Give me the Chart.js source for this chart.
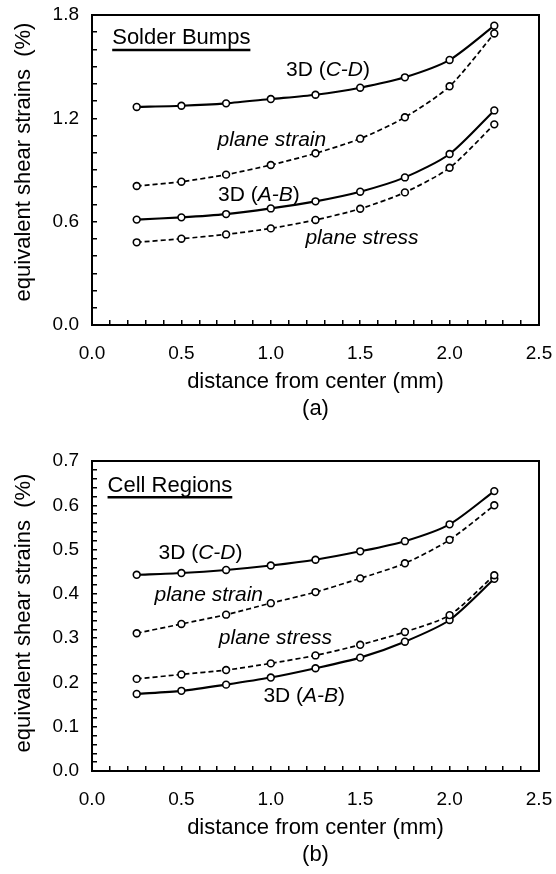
<!DOCTYPE html>
<html>
<head>
<meta charset="utf-8">
<script src="https://cdn.jsdelivr.net/npm/chart.js@4.4.1/dist/chart.umd.min.js"></script>
<style>
  html, body { margin: 0; padding: 0; background: #fff; overflow: hidden; }
  .panel { position: absolute; left: 0; width: 556px; height: 428px; }
</style>
</head>
<body>
<div class="panel" style="top:0"><canvas id="chart-a"></canvas></div>
<div class="panel" style="top:446px"><canvas id="chart-b"></canvas></div>
<script>
const distances = [0.25, 0.5, 0.75, 1.0, 1.25, 1.5, 1.75, 2.0, 2.25];

// (a) solder bumps
const bumpsCD = [1.266, 1.273, 1.287, 1.312, 1.337, 1.378, 1.438, 1.539, 1.738];
const bumpsPlaneStrain = [0.807, 0.832, 0.873, 0.929, 0.997, 1.082, 1.206, 1.386, 1.693];
const bumpsAB = [0.612, 0.625, 0.644, 0.677, 0.718, 0.774, 0.857, 0.993, 1.246];
const bumpsPlaneStress = [0.480, 0.501, 0.526, 0.561, 0.610, 0.675, 0.770, 0.913, 1.165];

// (b) cell regions
const cellCD = [0.443, 0.447, 0.454, 0.464, 0.477, 0.496, 0.519, 0.557, 0.632];
const cellPlaneStrain = [0.311, 0.332, 0.353, 0.379, 0.404, 0.435, 0.469, 0.522, 0.600];
const cellPlaneStress = [0.208, 0.218, 0.228, 0.243, 0.261, 0.285, 0.314, 0.352, 0.442];
const cellAB = [0.174, 0.181, 0.195, 0.211, 0.232, 0.256, 0.292, 0.341, 0.434];

// tick labels
const xTickLabels = ['0.0', '0.5', '1.0', '1.5', '2.0', '2.5'];
const bumpsYTickLabels = ['0.0', '0.6', '1.2', '1.8'];
const cellYTickLabels = ['0.0', '0.1', '0.2', '0.3', '0.4', '0.5', '0.6', '0.7'];

const FONT = '"Liberation Sans", Arial, sans-serif';

function toPoints(values) {
  return values.map((v, i) => ({ x: distances[i], y: v }));
}

function series(values, dashed) {
  return {
    data: toPoints(values),
    borderColor: '#000',
    borderWidth: dashed ? 1.7 : 2.1,
    borderDash: dashed ? [5, 3] : [],
    tension: 0.25,
    pointRadius: 3.4,
    pointBorderWidth: 1.6,
    pointBorderColor: '#000',
    pointBackgroundColor: '#fff',
    fill: false,
  };
}

function labelFor(labels) {
  return function (value) {
    const hit = labels.find(l => Math.abs(parseFloat(l) - value) < 1e-6);
    return hit === undefined ? '' : hit;
  };
}

// frame, y title and in-plot notes
const notesPlugin = {
  id: 'notes',
  afterDatasetsDraw(chart, args, opts) {
    const { ctx, chartArea: a, scales: { x, y } } = chart;
    ctx.save();
    ctx.strokeStyle = '#000';
    ctx.lineWidth = 2;
    ctx.strokeRect(a.left, a.top, a.right - a.left, a.bottom - a.top);

    ctx.fillStyle = '#000';
    ctx.textBaseline = 'middle';

    // y axis title
    ctx.save();
    ctx.translate(24, (a.top + a.bottom) / 2 + opts.yTitleShift);
    ctx.rotate(-Math.PI / 2);
    ctx.textAlign = 'center';
    ctx.font = '22px ' + FONT;
    ctx.fillText('equivalent shear strains  (%)', 0, 0);
    ctx.restore();

    ctx.textAlign = 'left';
    for (const note of opts.items) {
      const fonts = note.parts.map(p => (p[1] ? 'italic ' : '') + note.size + 'px ' + FONT);
      let width = 0;
      note.parts.forEach((p, i) => { ctx.font = fonts[i]; width += ctx.measureText(p[0]).width; });
      let px = x.getPixelForValue(note.x);
      const py = y.getPixelForValue(note.y);
      if (note.align === 'center') px -= width / 2;
      const start = px;
      note.parts.forEach((p, i) => {
        ctx.font = fonts[i];
        ctx.fillText(p[0], px, py);
        px += ctx.measureText(p[0]).width;
      });
      if (note.underline) {
        ctx.lineWidth = 2.5;
        ctx.beginPath();
        ctx.moveTo(start, py + 11.5);
        ctx.lineTo(start + width, py + 11.5);
        ctx.stroke();
      }
    }
    ctx.restore();
  }
};

function makeChart(id, datasets, yMax, yStep, yLabels, panel, notes, yTitleShift) {
  return new Chart(document.getElementById(id).getContext('2d'), {
    type: 'line',
    data: { datasets: datasets },
    plugins: [notesPlugin],
    options: {
      responsive: true,
      maintainAspectRatio: false,
      animation: false,
      layout: { padding: { left: 0, right: 17, top: 15, bottom: 0 } },
      plugins: {
        legend: { display: false },
        tooltip: { enabled: false },
        notes: { items: notes, yTitleShift: yTitleShift },
      },
      scales: {
        x: {
          type: 'linear',
          min: 0,
          max: 2.5,
          afterFit: function (scale) {
            scale.height = 103;
            scale.paddingLeft = 0;
            scale.paddingRight = 0;
          },
          border: { display: false },
          grid: {
            drawOnChartArea: false,
            drawTicks: true,
            tickLength: -5,
            color: '#000',
            lineWidth: 1.5,
          },
          ticks: {
            stepSize: 0.1,
            autoSkip: false,
            maxRotation: 0,
            padding: 22,
            color: '#000',
            font: { size: 19, family: FONT },
            callback: labelFor(xTickLabels),
          },
          title: {
            display: true,
            text: ['distance from center (mm)', panel],
            color: '#000',
            font: { size: 22, family: FONT, lineHeight: '27px' },
            padding: { top: 0, bottom: 6 },
          },
        },
        y: {
          type: 'linear',
          min: 0,
          max: yMax,
          afterFit: function (scale) {
            scale.width = 92;
            scale.paddingTop = 0;
            scale.paddingBottom = 0;
          },
          border: { display: false },
          grid: {
            drawOnChartArea: false,
            drawTicks: true,
            tickLength: -5,
            color: '#000',
            lineWidth: 1.5,
          },
          ticks: {
            stepSize: yStep,
            autoSkip: false,
            padding: 18,
            color: '#000',
            font: { size: 19, family: FONT },
            callback: labelFor(yLabels),
          },
        },
      },
    },
  });
}

makeChart('chart-a',
  [series(bumpsCD, false), series(bumpsPlaneStrain, true), series(bumpsAB, false), series(bumpsPlaneStress, true)],
  1.8, 0.1, bumpsYTickLabels, '(a)',
  [
    { parts: [['Solder Bumps', false]], x: 0.113, y: 1.664, align: 'left', size: 22, underline: true },
    { parts: [['3D (', false], ['C-D', true], [')', false]], x: 1.32, y: 1.48, align: 'center', size: 21 },
    { parts: [['plane strain', true]], x: 1.006, y: 1.076, align: 'center', size: 21 },
    { parts: [['3D (', false], ['A-B', true], [')', false]], x: 0.933, y: 0.755, align: 'center', size: 21 },
    { parts: [['plane stress', true]], x: 1.51, y: 0.503, align: 'center', size: 21 },
  ], -8);

makeChart('chart-b',
  [series(cellCD, false), series(cellPlaneStrain, true), series(cellPlaneStress, true), series(cellAB, false)],
  0.7, 0.02, cellYTickLabels, '(b)',
  [
    { parts: [['Cell Regions', false]], x: 0.087, y: 0.644, align: 'left', size: 22, underline: true },
    { parts: [['3D (', false], ['C-D', true], [')', false]], x: 0.607, y: 0.492, align: 'center', size: 21 },
    { parts: [['plane strain', true]], x: 0.653, y: 0.397, align: 'center', size: 21 },
    { parts: [['plane stress', true]], x: 1.026, y: 0.299, align: 'center', size: 21 },
    { parts: [['3D (', false], ['A-B', true], [')', false]], x: 1.187, y: 0.168, align: 'center', size: 21 },
  ], -3);
</script>
</body>
</html>
